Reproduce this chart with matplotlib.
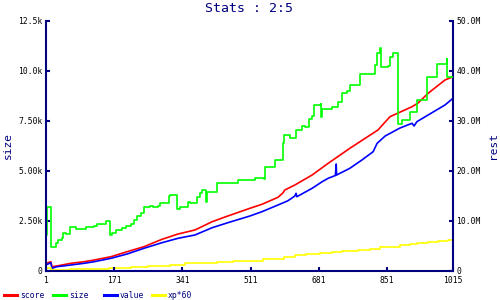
import matplotlib
matplotlib.use("Agg")
import matplotlib.pyplot as plt
from matplotlib.lines import Line2D

# size (left axis), step data
size_x = [1, 3, 14, 25, 31, 42, 44, 51, 61, 75, 101, 121, 128, 145, 150, 160, 165, 175, 190,
          200, 213, 220, 228, 238, 245, 260, 268, 280, 285, 307, 310, 327, 335, 355, 360, 376,
          385, 390, 397, 400, 402, 426, 455, 480, 522, 544, 547, 572, 592, 595, 609, 623, 640,
          646, 655, 664, 669, 686, 687, 689, 714, 729, 738, 750, 758, 783, 821, 825, 833, 836,
          854, 858, 866, 879, 887, 908, 925, 950, 974, 999, 1001, 1015]
size_y = [1800, 3200, 1200, 1400, 1550, 1650, 1900, 1850, 2200, 2100, 2200, 2250, 2350, 2350,
          2500, 1800, 1900, 2050, 2150, 2250, 2350, 2550, 2750, 2900, 3200, 3250, 3200, 3250,
          3400, 3750, 3800, 3100, 3200, 3450, 3400, 3700, 3900, 4050, 4050, 3450, 3950, 4400,
          4400, 4550, 4650, 4600, 5200, 5550, 6400, 6800, 6650, 7050, 7250, 7200, 7600, 7750,
          8300, 8350, 7700, 8100, 8200, 8450, 8900, 9000, 9300, 9850, 10300, 10900, 11150,
          10200, 10250, 10700, 10900, 7350, 7550, 7950, 8550, 9700, 10350, 10600, 9700, 9700]

# score (right axis, millions)
score_x = [1, 13, 16, 28, 63, 96, 121, 163, 203, 245, 290, 330, 372, 415, 454, 509, 539, 579,
           591, 596, 621, 664, 704, 758, 828, 858, 913, 928, 953, 995, 1015]
score_y = [1.48, 1.8, 0.8, 0.94, 1.48, 1.8, 2.14, 2.8, 3.8, 4.8, 6.28, 7.34, 8.14, 9.8, 10.94,
           12.48, 13.28, 14.68, 15.54, 16.14, 17.14, 19.14, 21.48, 24.48, 28.14, 30.8, 32.8,
           33.54, 35.48, 38.14, 38.8]

# value (right axis, millions)
value_x = [1, 13, 16, 28, 63, 96, 121, 163, 203, 245, 290, 330, 372, 415, 454, 509, 539, 579,
           604, 621, 624, 626, 664, 689, 704, 722, 724, 725, 758, 788, 816, 826, 846, 883, 913,
           918, 925, 953, 995, 1015]
value_y = [1.14, 1.6, 0.48, 0.8, 1.14, 1.48, 1.8, 2.48, 3.34, 4.48, 5.6, 6.48, 7.14, 8.6, 9.6,
           10.94, 11.8, 13.14, 14.0, 14.94, 15.48, 14.8, 16.48, 17.8, 18.48, 19.04, 21.34, 19.14,
           20.48, 22.14, 23.8, 25.48, 26.94, 28.54, 29.48, 28.94, 29.8, 31.14, 33.14, 34.48]

# xp*60 (right axis, millions)
xp_x = [1, 13, 61, 158, 213, 255, 310, 347, 426, 468, 542, 595, 621, 650, 684, 713, 738, 778,
        808, 833, 858, 883, 908, 925, 953, 978, 1003, 1015]
xp_y = [0.54, 0.14, 0.34, 0.6, 0.8, 1.0, 1.14, 1.48, 1.68, 1.94, 2.28, 2.8, 3.08, 3.34, 3.6,
        3.8, 3.94, 4.14, 4.4, 4.68, 4.8, 5.08, 5.34, 5.48, 5.74, 6.0, 6.2, 6.2]

x_ticks = [1, 171, 341, 511, 681, 851, 1015]
left_ticks = [0, 2500, 5000, 7500, 10000, 12500]
left_labels = ["0", "2.50k", "5.00k", "7.50k", "10.0k", "12.5k"]
right_ticks = [0, 10, 20, 30, 40, 50]
right_labels = ["0", "10.0M", "20.0M", "30.0M", "40.0M", "50.0M"]

navy = "#000080"
mono = "DejaVu Sans Mono"

fig = plt.figure(figsize=(5, 3), dpi=100)
ax = fig.add_axes([46 / 500, 1 - 270.7 / 300, 407 / 500, 250 / 300])
ax2 = ax.twinx()

ax2.plot(score_x, score_y, color="#ff0000", lw=1.2)
ax2.plot(value_x, value_y, color="#0000ff", lw=1.2)
ax2.plot(xp_x, xp_y, color="#ffff00", lw=1.2, drawstyle="steps-post")
ax.plot(size_x, size_y, color="#00ff00", lw=1.2, drawstyle="steps-post")
ax.set_zorder(ax2.get_zorder() + 1)
ax.patch.set_visible(False)

ax.set_xlim(1, 1015)
ax.set_ylim(0, 12500)
ax2.set_ylim(0, 50)

ax.set_xticks(x_ticks)
ax.set_xticklabels([str(t) for t in x_ticks], family=mono, fontsize=5.8)
ax.set_yticks(left_ticks)
ax.set_yticklabels(left_labels, family=mono, fontsize=5.8)
ax2.set_yticks(right_ticks)
ax2.set_yticklabels(right_labels, family=mono, fontsize=5.8)

for a in (ax, ax2):
    a.spines["top"].set_visible(False)
    for s in ("left", "right", "bottom"):
        a.spines[s].set_color(navy)
        a.spines[s].set_linewidth(1.5)
    a.tick_params(direction="in", length=3, width=1.5, color=navy, pad=2.5)
ax.tick_params(axis="x", pad=3.5)
ax.spines["right"].set_visible(False)
ax2.spines["left"].set_visible(False)
ax2.spines["bottom"].set_visible(False)

fig.text(249 / 500, 1 - 8 / 300, "Stats : 2:5", family=mono, fontsize=9.5, color=navy,
         ha="center", va="center")
fig.text(8 / 500, 1 - 145 / 300, "size", family=mono, fontsize=8, color=navy,
         rotation=90, ha="center", va="center")
fig.text(493 / 500, 1 - 145 / 300, "rest", family=mono, fontsize=8, color=navy,
         rotation=90, ha="center", va="center")

# legend along the bottom
legend_items = [("score", "#ff0000", 4), ("size", "#00ff00", 53),
                ("value", "#0000ff", 104), ("xp*60", "#ffff00", 152)]
ly = 1 - 295 / 300
for name, col, x0 in legend_items:
    fig.add_artist(Line2D([x0 / 500, (x0 + 13) / 500], [ly, ly], color=col, lw=2.2,
                          transform=fig.transFigure))
    fig.text((x0 + 16) / 500, ly, name, family=mono, fontsize=5.8, color=navy,
             ha="left", va="center")

fig.savefig("out.png", dpi=100)
